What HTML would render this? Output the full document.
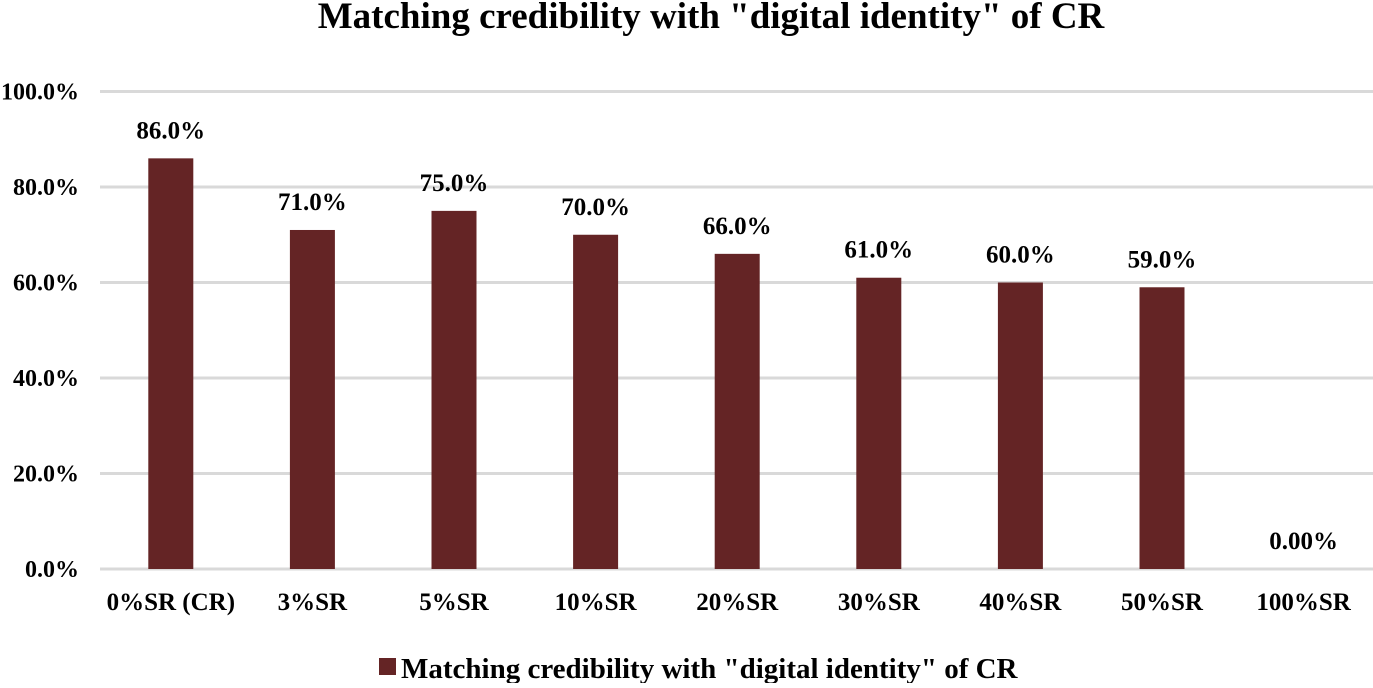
<!DOCTYPE html>
<html><head><meta charset="utf-8"><style>
body{margin:0;background:#fff;}
svg text{font-family:"Liberation Serif",serif;font-weight:bold;fill:#000;}
</style></head><body>
<svg width="1373" height="683">
<text x="711" y="28" text-anchor="middle" font-size="37">Matching credibility with "digital identity" of CR</text>
<g id="grid"></g><g id="bars"></g><g id="labels"></g>
<rect x="379" y="658" width="17" height="17" fill="#642425"/>
<text x="401" y="678" font-size="29">Matching credibility with "digital identity" of CR</text>
</svg>
<script>
const categories=["0%SR (CR)","3%SR","5%SR","10%SR","20%SR","30%SR","40%SR","50%SR","100%SR"];
const values=[86,71,75,70,66,61,60,59,0];
const valueLabels=["86.0%","71.0%","75.0%","70.0%","66.0%","61.0%","60.0%","59.0%","0.00%"];
const ticks=[0,20,40,60,80,100];
const tickLabels=["0.0%","20.0%","40.0%","60.0%","80.0%","100.0%"];
const NS="http://www.w3.org/2000/svg";
const x0=100,step=141.6,y0=569,y100=91.5,bw=45;
const y=v=>y0-(y0-y100)*v/100;
const cx=i=>x0+step*(i+0.5);
function mk(t,a,p){const e=document.createElementNS(NS,t);for(const k in a)e.setAttribute(k,a[k]);document.getElementById(p).appendChild(e);return e;}
ticks.forEach((t,i)=>{
 const l=mk('line',{x1:x0,x2:1373,y1:y(t),y2:y(t),stroke:'#d9d9d9','stroke-width':3},'grid');
 
 
 const tx=mk('text',{x:79,y:y(t)+8,'text-anchor':'end','font-size':24},'labels');
 tx.textContent=tickLabels[i];
 
 
});
categories.forEach((c,i)=>{
 const b=mk('rect',{x:cx(i)-bw/2,y:y(values[i]),width:bw,height:y0-y(values[i]),fill:'#642425'},'bars');
 
 
 const vl=mk('text',{x:cx(i),y:y(values[i])-20,'text-anchor':'middle','font-size':25},'labels');
 vl.textContent=valueLabels[i];
 
 
 const xl=mk('text',{x:cx(i),y:610,'text-anchor':'middle','font-size':25},'labels');
 xl.textContent=c;
 
 
});
</script>
</body></html>
